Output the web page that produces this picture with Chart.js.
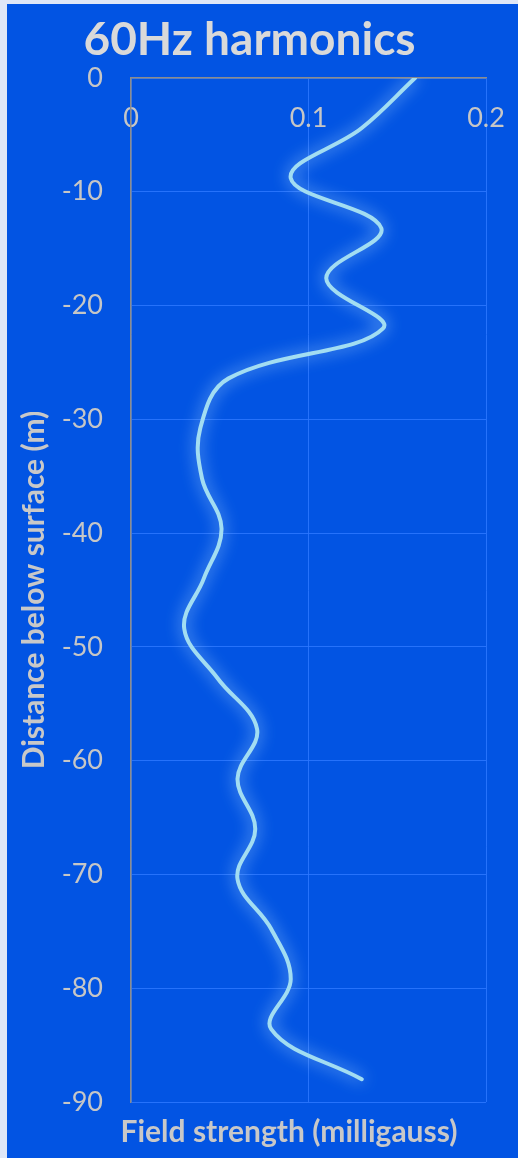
<!DOCTYPE html>
<html><head><meta charset="utf-8">
<script src="https://cdn.jsdelivr.net/npm/chart.js@4/dist/chart.umd.min.js"></script>
<style>
html,body{margin:0;padding:0;background:#dfe7f7;width:518px;height:1158px;overflow:hidden}
#wrap{position:absolute;left:7px;top:4px;width:511px;height:1154px;background:#0254E3}
</style></head><body>
<div id="wrap"><canvas id="c"></canvas></div>
<script>
const chartTitle = '60Hz harmonics';
const xAxisTitle = 'Field strength (milligauss)';
const yAxisTitle = 'Distance below surface (m)';
const depthMetres = [0, -4.4, -8.8, -13.2, -17.6, -22, -26.4, -30.8, -35.2, -39.6, -44, -48.4, -52.8, -57.2, -61.6, -66, -70.4, -74.8, -79.2, -83.6, -88];
const fieldStrength = [0.160, 0.130, 0.090, 0.141, 0.110, 0.142, 0.055, 0.039, 0.040, 0.051, 0.041, 0.030, 0.049, 0.071, 0.060, 0.070, 0.060, 0.079, 0.090, 0.079, 0.130];
const xTickValues = [0, 0.1, 0.2];
const yTickValues = [0, -10, -20, -30, -40, -50, -60, -70, -80, -90];

const FONT = 'Lato, "Open Sans", sans-serif';
const gridColor = 'rgba(45,120,255,0.85)';
const axisColor = '#8C8C8C';
const tickColor = '#C6C6C6';

const glowPlugin = {
  id: 'glow',
  beforeDatasetDraw(chart) {
    const ctx = chart.ctx;
    ctx.save();
    ctx.shadowColor = 'rgba(170,215,255,0.95)';
    ctx.shadowBlur = 16;
  },
  afterDatasetDraw(chart) { chart.ctx.restore(); }
};

const textPlugin = {
  id: 'texts',
  afterDraw(chart) {
    const ctx = chart.ctx;
    ctx.save();
    ctx.fillStyle = '#D9D9D9';
    ctx.font = 'bold 46px ' + FONT;
    ctx.textAlign = 'center';
    ctx.textBaseline = 'alphabetic';
    ctx.fillText(chartTitle, 242.5, 51);
    ctx.fillStyle = '#C8C8C8';
    ctx.font = 'bold 30px ' + FONT;
    ctx.textBaseline = 'middle';
    ctx.fillText(xAxisTitle, 282, 1128);
    ctx.restore();
  }
};

const points = depthMetres.map((d, i) => ({x: fieldStrength[i], y: d}));

new Chart(document.getElementById('c'), {
  type: 'scatter',
  data: {
    datasets: [{
      data: points,
      showLine: true,
      borderColor: '#A2DDF2',
      borderWidth: 4,
      pointRadius: 0,
      tension: 0.38,
      borderCapStyle: 'round',
      borderJoinStyle: 'round',
      fill: false
    }]
  },
  options: {
    responsive: true,
    maintainAspectRatio: false,
    animation: false,
    devicePixelRatio: 1,
    layout: {padding: {top: 64, bottom: 56, left: 0, right: 32}},
    plugins: {legend: {display: false}, tooltip: {enabled: false}, title: {display: false}},
    scales: {
      x: {
        type: 'linear',
        position: 'top',
        min: 0, max: 0.2,
        afterBuildTicks: s => { s.ticks = xTickValues.map(v => ({value: v})); },
        afterFit: s => { s.height = 10; s.paddingLeft = 0; s.paddingRight = 0; },
        grid: {color: gridColor, lineWidth: 1, drawTicks: false},
        border: {color: axisColor, width: 1.5},
        ticks: {mirror: true, padding: 24, color: tickColor, font: {family: FONT, size: 27},
                callback: v => String(v), maxRotation: 0}
      },
      y: {
        type: 'linear',
        position: 'left',
        min: -90, max: 0,
        afterBuildTicks: s => { s.ticks = yTickValues.map(v => ({value: v})); },
        afterFit: s => { s.width = 124; },
        grid: {color: gridColor, lineWidth: 1, drawTicks: false},
        border: {color: axisColor, width: 1.5},
        ticks: {padding: 28, color: tickColor, font: {family: FONT, size: 27}, callback: v => String(v)},
        title: {display: true, text: yAxisTitle, color: '#C8C8C8',
                font: {family: FONT, size: 30, weight: 'bold'}, padding: {top: 9, bottom: 0}}
      }
    }
  },
  plugins: [glowPlugin, textPlugin]
});
</script>
</body></html>
